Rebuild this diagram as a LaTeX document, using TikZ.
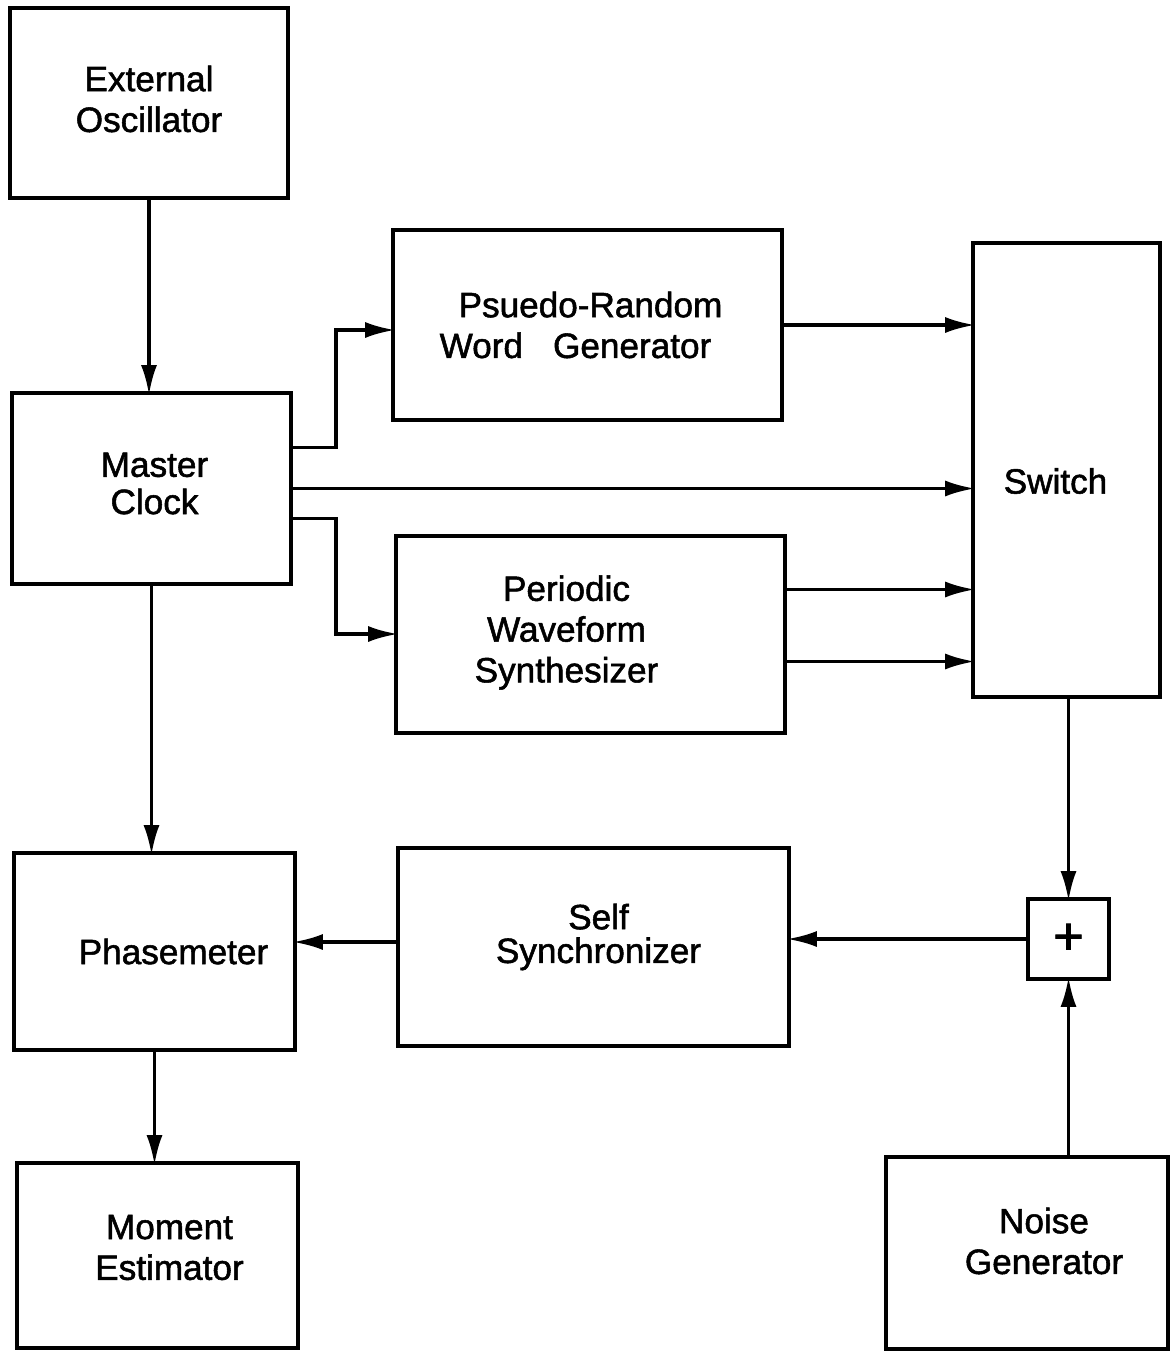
\documentclass[tikz,border=0pt]{standalone}
\usepackage{fontspec}
\setmainfont{Liberation Sans}
\newfontfamily\lettering[FakeBold=1.5]{Liberation Sans}
\usetikzlibrary{arrows.meta}

\begin{document}
\begin{tikzpicture}[
    blk/.style={draw,line width=1.2pt,inner sep=0pt},
    txt/.style={align=center,font=\lettering\fontsize{10}{11.6}\selectfont},
    arr/.style={line width=1pt,shorten >=-1.2pt,-{Latex[length=3mm,width=1.6mm]}}]
  \useasboundingbox (0,0) rectangle (11.72,-13.51);
  % blocks
  \node[blk,minimum width=2.78cm,minimum height=1.90cm] (extosc) at (1.49,-1.03) {};
  \node[blk,minimum width=2.79cm,minimum height=1.91cm] (clock) at (1.515,-4.885) {};
  \node[blk,minimum width=3.89cm,minimum height=1.90cm] (prwg) at (5.875,-3.25) {};
  \node[blk,minimum width=1.87cm,minimum height=4.54cm] (switch) at (10.665,-4.70) {};
  \node[blk,minimum width=3.89cm,minimum height=1.97cm] (pws) at (5.905,-6.345) {};
  \node[blk,minimum width=2.81cm,minimum height=1.97cm] (phase) at (1.545,-9.515) {};
  \node[blk,minimum width=3.91cm,minimum height=1.98cm] (selfsync) at (5.935,-9.47) {};
  \node[blk,minimum width=0.81cm,minimum height=0.80cm] (sum) at (10.685,-9.39) {};
  \node[blk,minimum width=2.81cm,minimum height=1.85cm] (moment) at (1.575,-12.555) {};
  \node[blk,minimum width=2.82cm,minimum height=1.92cm] (noise) at (10.27,-12.53) {};
  % texts
  \node[txt] (extosc-t) at ([shift={(0,0.04)}]extosc.center) {External\\Oscillator};
  \node[txt] (clock-t) at ([shift={(0.03,0.05)}]clock.center) {Master\\[-1pt]Clock};
  \node[txt] (prwg-t) at ([shift={(0.03,0)}]prwg.center) {Psuedo-Random\\Word~~\hspace{3pt}Generator\hspace*{3mm}};
  \node[txt] (switch-t) at ([shift={(-0.11,-0.11)}]switch.center) {Switch};
  \node[txt] (pws-t) at ([shift={(-0.24,0.02)}]pws.center) {Periodic\\Waveform\\Synthesizer};
  \node[txt] (phase-t) at ([shift={(0.19,0)}]phase.center) {Phasemeter};
  \node[txt] (selfsync-t) at ([shift={(0.05,0.10)}]selfsync.center) {Self\\[-2pt]Synchronizer};
  \node[font=\lettering\fontsize{15}{15}\selectfont] (sum-t) at (sum.center) {+};
  \node[txt] (moment-t) at ([shift={(0.12,0.08)}]moment.center) {Moment\\Estimator};
  \node[txt] (noise-t) at ([shift={(0.17,0.12)}]noise.center) {Noise\\Generator};
  % connectors
  \coordinate (j1) at (3.36,-3.30);
  \coordinate (j2) at (3.36,-6.34);
  \draw[arr] (extosc.south) -- (extosc.south |- clock.north);
  \draw[arr] ([yshift=4.1mm]clock.east) -| (j1) -- (prwg.west |- j1);
  \draw[arr] (clock.east) -- (clock.east -| switch.west);
  \draw[arr] ([yshift=-3.0mm]clock.east) -| (j2) -- (pws.west |- j2);
  \draw[arr] (prwg.east) -- (prwg.east -| switch.west);
  \draw[arr] ([yshift=4.5mm]pws.east) coordinate (w1) -- (w1 -| switch.west);
  \draw[arr] ([yshift=-2.7mm]pws.east) coordinate (w2) -- (w2 -| switch.west);
  \draw[arr] (clock.south) -- (clock.south |- phase.north);
  \draw[arr] (sum.north |- switch.south) -- (sum.north);
  \draw[arr] (sum.south |- noise.north) -- (sum.south);
  \draw[arr] (sum.west) -- (sum.west -| selfsync.east);
  \draw[arr] ([yshift=0.5mm]selfsync.west) coordinate (w3) -- (w3 -| phase.east);
  \draw[arr] (phase.south) -- (phase.south |- moment.north);
\end{tikzpicture}
\end{document}
